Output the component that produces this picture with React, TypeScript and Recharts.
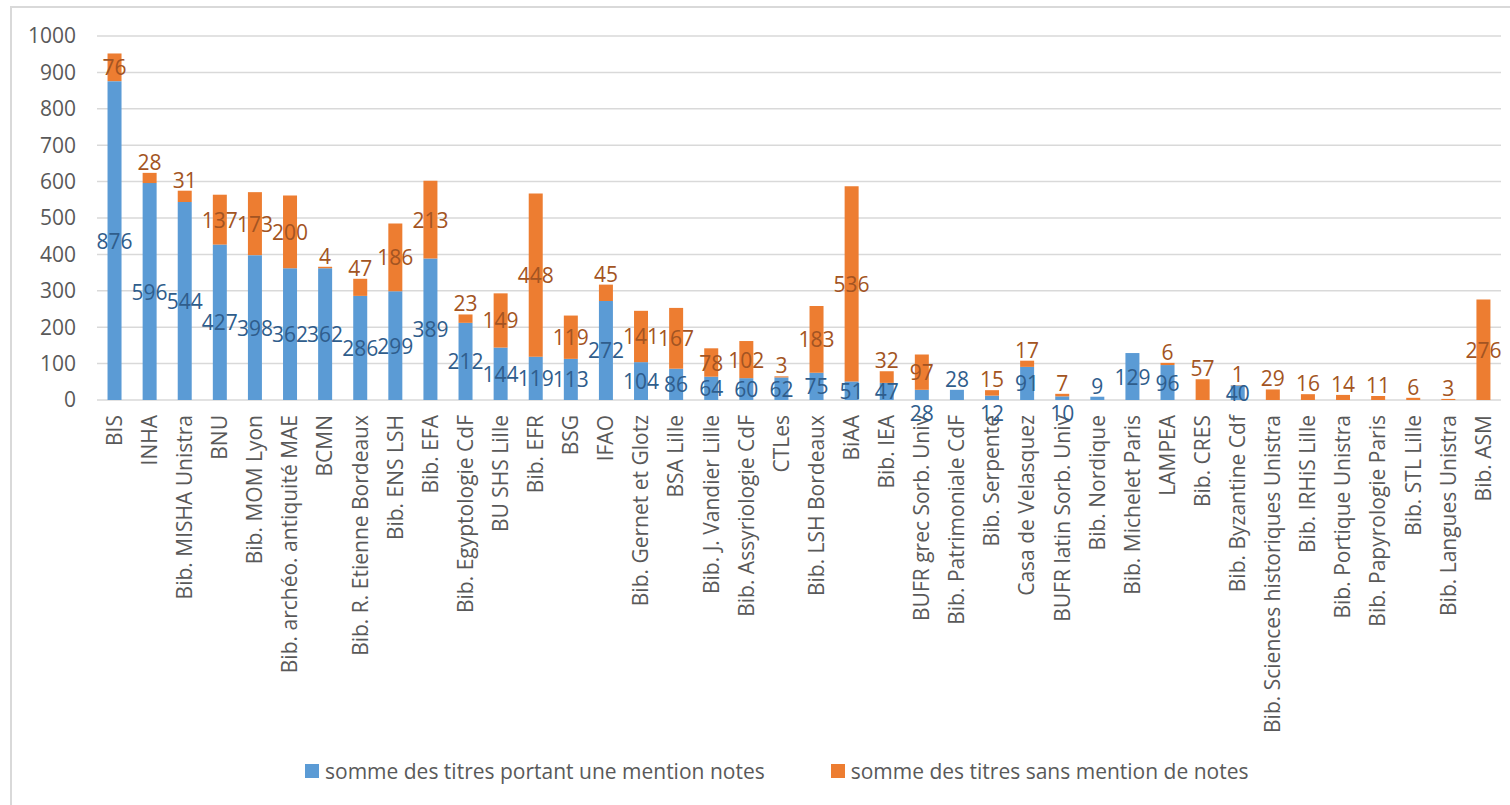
import { Bar, BarChart, CartesianGrid, LabelList, Legend, XAxis, YAxis } from "recharts";

const libraries = [
  "BIS",
  "INHA",
  "Bib. MISHA Unistra",
  "BNU",
  "Bib. MOM Lyon",
  "Bib. archéo. antiquité MAE",
  "BCMN",
  "Bib. R. Etienne Bordeaux",
  "Bib. ENS LSH",
  "Bib. EFA",
  "Bib. Egyptologie CdF",
  "BU SHS Lille",
  "Bib. EFR",
  "BSG",
  "IFAO",
  "Bib. Gernet et Glotz",
  "BSA Lille",
  "Bib. J. Vandier Lille",
  "Bib. Assyriologie CdF",
  "CTLes",
  "Bib. LSH Bordeaux",
  "BiAA",
  "Bib. IEA",
  "BUFR grec Sorb. Univ",
  "Bib. Patrimoniale CdF",
  "Bib. Serpente",
  "Casa de Velasquez",
  "BUFR latin Sorb. Univ",
  "Bib. Nordique",
  "Bib. Michelet Paris",
  "LAMPEA",
  "Bib. CRES",
  "Bib. Byzantine Cdf",
  "Bib. Sciences historiques Unistra",
  "Bib. IRHiS Lille",
  "Bib. Portique Unistra",
  "Bib. Papyrologie Paris",
  "Bib. STL Lille",
  "Bib. Langues Unistra",
  "Bib. ASM",
];

// titres portant une mention notes
const withNotes = [
  876, 596, 544, 427, 398, 362, 362, 286, 299, 389, 212, 144, 119, 113, 272, 104, 86, 64, 60, 62,
  75, 51, 47, 28, 28, 12, 91, 10, 9, 129, 96, null, 40, null, null, null, null, null, null, null,
];

// titres sans mention de notes
const withoutNotes = [
  76, 28, 31, 137, 173, 200, 4, 47, 186, 213, 23, 149, 448, 119, 45, 141, 167, 78, 102, 3,
  183, 536, 32, 97, null, 15, 17, 7, null, null, 6, 57, 1, 29, 16, 14, 11, 6, 3, 276,
];

const yTicks = [0, 100, 200, 300, 400, 500, 600, 700, 800, 900, 1000];

const seriesNames = [
  "somme des titres portant une mention notes",
  "somme des titres sans mention de notes",
];

const data = libraries.map((name, i) => ({
  name,
  withNotes: withNotes[i],
  withoutNotes: withoutNotes[i],
}));

const FONT = "'Open Sans', 'Noto Sans', sans-serif";
const GREY = "#595959";
const BLUE = "#5B9BD5";
const ORANGE = "#ED7D31";

function CategoryTick({ x, y, payload }: any) {
  return (
    <text
      x={x}
      y={y}
      transform={`rotate(-90, ${x}, ${y})`}
      textAnchor="end"
      dy="0.35em"
      fill={GREY}
      fontSize={21}
      fontFamily={FONT}
    >
      {payload.value}
    </text>
  );
}

function labelText(x: number, y: number, value: any, color: string) {
  return (
    <text
      x={x}
      y={y}
      textAnchor="middle"
      dominantBaseline="central"
      fill={color}
      fontSize={21}
      fontFamily={FONT}
    >
      {value}
    </text>
  );
}

// blue labels: centred, tiny segments pushed below the axis (or above the bar when nothing sits on it)
const blueLabel = (props: any) => {
  const { x, y, width, height, value, index } = props;
  if (value == null) return null;
  const cx = x + width / 2;
  if (height < 12) {
    const hasTop = withoutNotes[index] != null;
    return labelText(cx, hasTop ? y + height + 13 : y - 11, value, "#2F5D8C");
  }
  return labelText(cx, y + height / 2, value, "#2F5D8C");
};

// orange labels: centred, small segments lifted above the stack
const orangeLabel = (props: any) => {
  const { x, y, width, height, value } = props;
  if (value == null) return null;
  const cx = x + width / 2;
  return labelText(cx, height < 25 ? y - 11 : y + height / 2, value, "#A35422");
};

function LegendBox() {
  const item = (color: string, label: string, gap: number) => (
    <div style={{ display: "flex", alignItems: "center", marginRight: gap }}>
      <span style={{ width: 14, height: 14, background: color, marginRight: 6 }} />
      <span>{label}</span>
    </div>
  );
  return (
    <div
      style={{
        display: "flex",
        alignItems: "center",
        height: 30,
        paddingLeft: 305,
        fontFamily: FONT,
        fontSize: 21,
        color: GREY,
        whiteSpace: "nowrap",
      }}
    >
      {item(BLUE, seriesNames[0], 66)}
      {item(ORANGE, seriesNames[1], 0)}
    </div>
  );
}

export default function App() {
  return (
    <div style={{ position: "absolute", left: 0, top: 0, width: 1510, height: 805, background: "#fff" }}>
      <div
        style={{
          position: "absolute",
          left: 10,
          top: 6,
          right: 0,
          bottom: 0,
          borderLeft: "2px solid #d9d9d9",
          borderTop: "2px solid #d9d9d9",
        }}
      />
      <BarChart
        width={1510}
        height={805}
        data={data}
        margin={{ top: 36, right: 9, left: 0, bottom: 19 }}
        barCategoryGap="30%"
      >
        <CartesianGrid vertical={false} stroke="#d9d9d9" strokeWidth={1.5} />
        <XAxis
          dataKey="name"
          interval={0}
          height={356}
          axisLine={false}
          tickLine={false}
          tickMargin={9}
          tick={<CategoryTick />}
        />
        <YAxis
          width={97}
          domain={[0, 1000]}
          ticks={yTicks}
          axisLine={false}
          tickLine={false}
          tickSize={0}
          tickMargin={21}
          tick={{ fill: GREY, fontSize: 21, fontFamily: FONT }}
        />
        <Legend verticalAlign="bottom" height={30} content={() => <LegendBox />} />
        <Bar dataKey="withNotes" name={seriesNames[0]} stackId="a" fill={BLUE} isAnimationActive={false}>
          <LabelList dataKey="withNotes" content={blueLabel} />
        </Bar>
        <Bar dataKey="withoutNotes" name={seriesNames[1]} stackId="a" fill={ORANGE} isAnimationActive={false}>
          <LabelList dataKey="withoutNotes" content={orangeLabel} />
        </Bar>
      </BarChart>
    </div>
  );
}
